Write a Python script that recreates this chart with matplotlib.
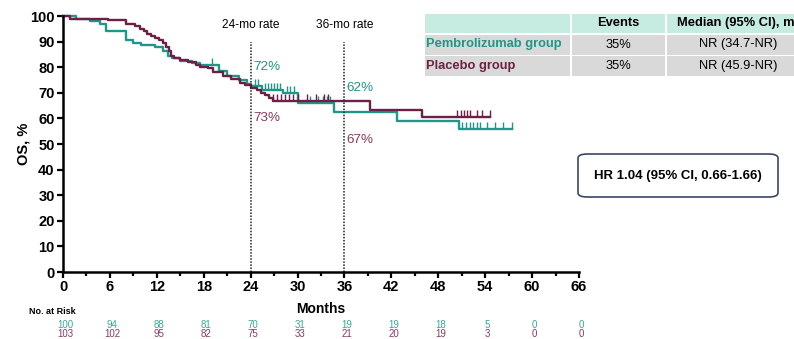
import numpy as np
import matplotlib
matplotlib.use("Agg")
import matplotlib.pyplot as plt
from matplotlib.patches import FancyBboxPatch, Rectangle
from matplotlib.transforms import blended_transform_factory

plt.rcParams["font.family"] = ["Liberation Sans", "DejaVu Sans"]

TEAL = "#1f9688"
PURPLE = "#6e1f45"
TEAL_LIGHT = "#3aa796"
PURPLE_LIGHT = "#8a3a60"

# step curves: time (months) where survival changes, survival (%) after the step
pembro_t = [0, 1.7, 3.4, 4.7, 5.5, 8.1, 9.0, 10.0, 11.8, 12.8, 13.4, 14.0, 15.0, 16.5,
            17.5, 20.0, 21.0, 22.5, 23.5, 24.0, 25.5, 28.2, 30.0, 34.6, 42.7, 50.6, 57.4]
pembro_s = [100, 99, 98, 97, 94, 90.5, 89.5, 88.5, 88, 86.5, 84.5, 83.5, 82.5, 81.5,
            81, 78.5, 76.5, 75, 73.5, 72.5, 71, 70, 66, 62.5, 59, 55.7, 55.7]
placebo_t = [0, 0.9, 5.7, 8.1, 9.2, 9.8, 10.3, 10.8, 11.3, 11.8, 12.3, 12.8, 13.2, 13.5,
             13.8, 14.2, 15.0, 16.0, 17.0, 17.5, 18.5, 19.2, 20.5, 21.5, 22.6, 23.3, 24.0,
             24.8, 25.3, 25.8, 26.3, 26.8, 39.3, 45.9, 54.6]
placebo_s = [100, 99, 98.3, 97, 96, 95, 94, 93, 92.3, 91.5, 90.6, 89.5, 88, 86.5,
             84.5, 83.5, 82.8, 82, 81, 80.2, 79.5, 78.2, 76.5, 75.5, 74, 73, 72,
             71, 70, 69, 68, 66.8, 63.3, 60.4, 60.4]

# censoring times
pembro_cens = [19.0, 24.6, 25.0, 25.8, 26.2, 26.6, 27.0, 27.4, 27.8, 28.6, 29.0, 29.5,
               31.6, 32.6, 33.2, 33.8, 34.2, 51.0, 51.6, 52.1, 52.5, 52.9, 53.3, 54.2,
               55.2, 56.3, 57.4]
placebo_cens = [26.9, 27.4, 27.9, 28.4, 28.9, 29.4, 30.0, 31.2, 32.3, 33.4, 33.9, 50.4,
                50.9, 51.3, 51.7, 52.1, 53.0, 53.6, 54.6]

risk_months = [0, 6, 12, 18, 24, 30, 36, 42, 48, 54, 60, 66]
pembro_risk = [100, 94, 88, 81, 70, 31, 19, 19, 18, 5, 0, 0]
placebo_risk = [103, 102, 95, 82, 75, 33, 21, 20, 19, 3, 0, 0]

table_header = ["", "Events", "Median (95% CI), mo"]
table_rows = [["Pembrolizumab group", "35%", "NR (34.7-NR)"],
              ["Placebo group", "35%", "NR (45.9-NR)"]]


def surv_at(times, surv, x):
    idx = np.searchsorted(times, x, side="right") - 1
    return np.array(surv)[idx]


fig = plt.figure(figsize=(7.94, 3.39), dpi=100)
ax = fig.add_axes([63 / 794, 1 - 272 / 339, 516 / 794, 256 / 339])

for t, s, cens, col in [(pembro_t, pembro_s, pembro_cens, TEAL),
                        (placebo_t, placebo_s, placebo_cens, PURPLE)]:
    ax.step(t, s, where="post", color=col, lw=1.7, clip_on=False)
    ax.plot(cens, surv_at(t, s, cens), ls="none", marker=2, color=col, ms=5, mew=1.0,
            clip_on=False)

# landmark lines
for m, lab in [(24, "24-mo rate"), (36, "36-mo rate")]:
    ax.plot([m, m], [0, 90], ls=(0, (1, 1)), color="#222222", lw=1.1)
    ax.text(m, 96.5, lab, ha="center", va="center", fontsize=8.6)

ax.text(24.3, 80, "72%", color=TEAL, fontsize=9.7, va="center")
ax.text(24.3, 60, "73%", color=PURPLE_LIGHT, fontsize=9.7, va="center")
ax.text(36.3, 72, "62%", color=TEAL, fontsize=9.7, va="center")
ax.text(36.3, 51.5, "67%", color=PURPLE_LIGHT, fontsize=9.7, va="center")

ax.set_xlim(0, 66)
ax.set_ylim(0, 100)
ax.set_xticks(range(0, 67, 6))
ax.set_xticks(range(3, 67, 6), minor=True)
ax.set_yticks(range(0, 101, 10))
for s in ["top", "right"]:
    ax.spines[s].set_visible(False)
for s in ["left", "bottom"]:
    ax.spines[s].set_linewidth(1.8)
ax.tick_params(axis="both", which="major", width=1.6, length=4, labelsize=10.5, pad=2)
ax.tick_params(axis="x", which="minor", width=1.6, length=3)
for lbl in ax.get_xticklabels() + ax.get_yticklabels():
    lbl.set_fontweight("bold")
ax.set_ylabel("OS, %", fontsize=10.5, fontweight="bold", labelpad=0)

# x label and number at risk
bt = blended_transform_factory(ax.transData, fig.transFigure)
ax.text(33, 1 - 309 / 339, "Months", transform=bt, ha="center", va="center",
        fontsize=10, fontweight="bold")
fig.text(29 / 794, 1 - 312 / 339, "No. at Risk", ha="left", va="center",
         fontsize=6.5, fontweight="bold")
for m, a, b in zip(risk_months, pembro_risk, placebo_risk):
    ax.text(m + 0.3, 1 - 324.5 / 339, str(a), transform=bt, ha="center", va="center",
            fontsize=7, color=TEAL_LIGHT)
    ax.text(m + 0.3, 1 - 334 / 339, str(b), transform=bt, ha="center", va="center",
            fontsize=7, color=PURPLE_LIGHT)

# summary table (figure pixel coordinates)
col_x = [425, 571.5, 666.5]
col_w = [144.5, 93.5, 150]
row_y = [13.5, 34.5, 56]
row_h = [19.5, 20, 20]
W, H = 794, 339
for r in range(3):
    for c in range(3):
        fc = "#c6ebe0" if r == 0 else "#d9d9d9"
        fig.patches.append(Rectangle((col_x[c] / W, 1 - (row_y[r] + row_h[r]) / H),
                                     col_w[c] / W, row_h[r] / H, transform=fig.transFigure,
                                     facecolor=fc, edgecolor="none"))
        yc = 1 - (row_y[r] + row_h[r] / 2) / H
        if r == 0:
            txt = table_header[c]
            if c == 1:
                fig.text(618 / W, yc, txt, ha="center", va="center", fontsize=9.3,
                         fontweight="bold")
            elif c == 2:
                fig.text(677 / W, yc, txt, ha="left", va="center", fontsize=9.3,
                         fontweight="bold")
        else:
            txt = table_rows[r - 1][c]
            if c == 0:
                fig.text(426 / W, yc, txt, ha="left", va="center", fontsize=9.3,
                         fontweight="bold", color=TEAL if r == 1 else PURPLE)
            elif c == 1:
                fig.text(618 / W, yc, txt, ha="center", va="center", fontsize=9.3)
            else:
                fig.text(738 / W, yc, txt, ha="center", va="center", fontsize=9.3)

# hazard ratio box
box = FancyBboxPatch((578 / W, 1 - 197 / H), 200 / W, 43 / H, transform=fig.transFigure,
                     boxstyle="round,pad=0.0,rounding_size=0.012", facecolor="white",
                     edgecolor="#3a4566", lw=1.2)
fig.patches.append(box)
fig.text(678 / W, 1 - 176 / H, "HR 1.04 (95% CI, 0.66-1.66)", ha="center", va="center",
         fontsize=9.5, fontweight="bold")

fig.savefig("out.png", dpi=100)
